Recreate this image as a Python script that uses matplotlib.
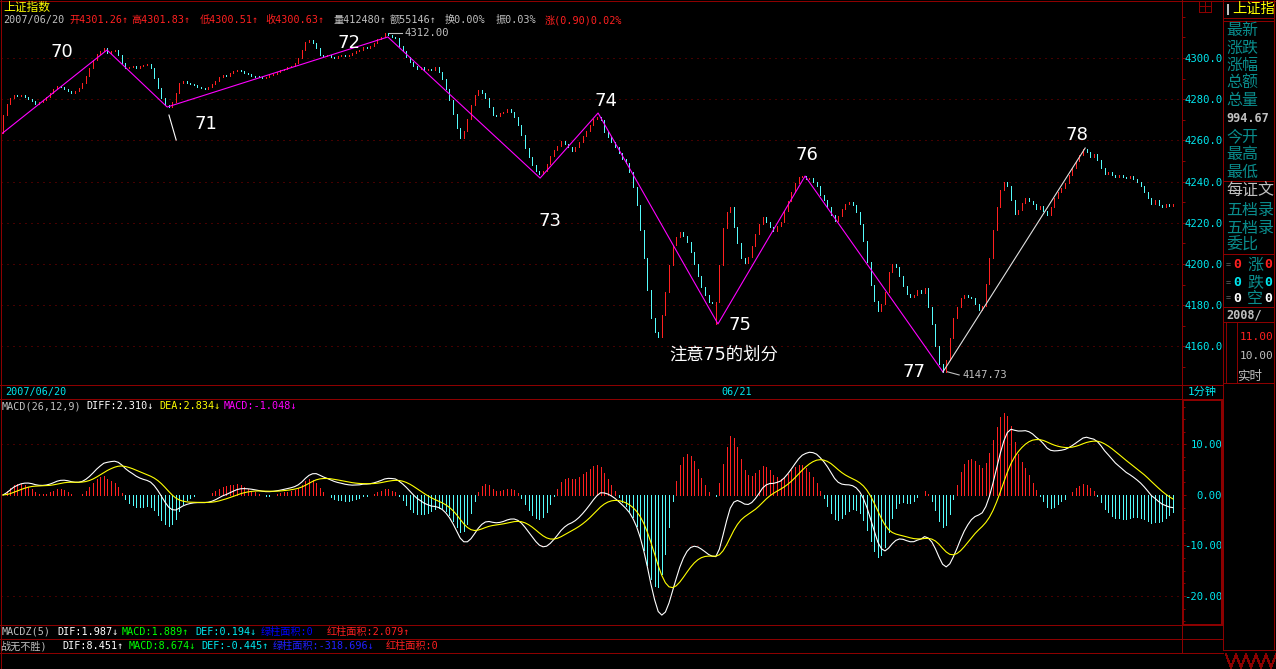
import numpy as np
import pandas as pd
import matplotlib
matplotlib.use("Agg")
import matplotlib.pyplot as plt
from matplotlib.lines import Line2D
from matplotlib.ticker import FormatStrFormatter, MultipleLocator

plt.rcParams['font.family'] = ['DejaVu Sans Mono', 'Noto Sans CJK SC']

# ---- 1 minute bars, 2007/06/20 -> 06/21 ----
first_open = 4263.5
closes = [
    4272.3, 4277.7, 4280.6, 4282.2, 4281.4, 4281.9, 4281.0, 4280.2, 4279.0, 4277.8,
    4278.6, 4279.8, 4281.2, 4283.0, 4284.9, 4286.5, 4286.0, 4285.1, 4283.9, 4283.0,
    4283.8, 4285.2, 4287.8, 4291.5, 4295.2, 4298.8, 4302.0, 4303.2, 4304.8, 4302.6,
    4303.4, 4304.0, 4301.5, 4297.8, 4295.0, 4295.8, 4296.2, 4295.0, 4295.9, 4296.6,
    4297.1, 4295.2, 4290.3, 4285.4, 4280.6, 4277.2, 4276.0, 4278.8, 4282.8, 4287.8,
    4289.0, 4288.0, 4287.4, 4286.8, 4286.0, 4285.4, 4285.0, 4285.8, 4287.2, 4289.0,
    4290.8, 4291.6, 4291.2, 4292.8, 4293.8, 4294.4, 4293.6, 4292.6, 4292.0, 4291.5,
    4291.0, 4290.6, 4290.2, 4290.8, 4291.6, 4292.4, 4293.3, 4294.0, 4294.8, 4295.6,
    4296.0, 4297.5, 4300.0, 4303.8, 4307.8, 4308.6, 4307.3, 4305.0, 4301.5, 4300.8,
    4301.3, 4300.6, 4300.2, 4300.9, 4301.4, 4301.0, 4301.6, 4302.2, 4303.4, 4304.0,
    4305.5, 4304.8, 4305.8, 4307.4, 4309.0, 4310.4, 4312.0, 4311.0, 4310.0, 4309.6,
    4305.6, 4303.2, 4300.6, 4298.0, 4296.0, 4294.8, 4295.4, 4294.0, 4294.6, 4294.0,
    4295.4, 4293.2, 4290.0, 4284.8, 4279.4, 4272.6, 4266.2, 4261.0, 4264.6, 4270.5,
    4277.0, 4282.0, 4284.4, 4283.0, 4280.4, 4276.2, 4272.5, 4272.0, 4273.2, 4274.0,
    4275.0, 4273.8, 4271.5, 4267.4, 4262.4, 4256.5, 4252.0, 4248.0, 4245.0, 4243.5,
    4245.2, 4248.4, 4252.6, 4255.5, 4257.5, 4259.5, 4258.2, 4256.8, 4255.0, 4256.6,
    4259.2, 4262.0, 4264.6, 4267.5, 4270.2, 4271.2, 4270.0, 4264.1, 4261.7, 4259.2,
    4256.8, 4253.9, 4251.0, 4249.0, 4244.7, 4237.4, 4228.6, 4216.5, 4202.9, 4187.4,
    4173.8, 4167.0, 4164.6, 4175.2, 4186.4, 4199.5, 4209.2, 4213.1, 4215.5, 4213.6,
    4210.7, 4205.8, 4200.0, 4194.2, 4188.8, 4185.0, 4181.6, 4181.1, 4181.6, 4199.5,
    4217.5, 4225.2, 4227.7, 4218.0, 4210.2, 4202.9, 4200.5, 4203.4, 4208.7, 4214.6,
    4219.4, 4222.8, 4220.4, 4218.0, 4216.0, 4218.4, 4220.4, 4225.7, 4230.6, 4234.9,
    4239.3, 4242.2, 4242.7, 4241.3, 4241.7, 4239.8, 4237.9, 4233.5, 4231.1, 4227.7,
    4223.8, 4220.9, 4223.3, 4226.7, 4229.1, 4230.1, 4228.6, 4225.2, 4219.4, 4211.2,
    4201.0, 4189.8, 4182.0, 4177.2, 4180.6, 4186.4, 4196.1, 4200.0, 4198.5, 4194.2,
    4189.3, 4185.4, 4184.0, 4185.0, 4187.4, 4185.9, 4188.3, 4179.1, 4170.9, 4160.2,
    4151.5, 4147.73, 4153.4, 4164.1, 4173.8, 4179.1, 4183.5, 4185.0, 4184.0, 4183.5,
    4180.6, 4177.7, 4179.6, 4190.3, 4202.9, 4216.5, 4227.7, 4235.9, 4239.8, 4237.9,
    4231.1, 4224.3, 4226.2, 4229.6, 4232.0, 4230.6, 4229.1, 4226.7, 4228.2, 4225.7,
    4223.8, 4227.7, 4232.0, 4234.9, 4236.9, 4239.3, 4243.2, 4246.6, 4250.0, 4252.9,
    4255.8, 4254.4, 4251.9, 4253.4, 4250.5, 4246.6, 4243.7, 4244.7, 4243.2, 4242.2,
    4243.2, 4242.2, 4241.7, 4242.7, 4241.3, 4239.8, 4237.9, 4234.9, 4232.0, 4229.1,
    4231.1, 4228.6, 4227.7, 4229.1, 4228.2, 4229.1,
]
wick_idx = [198]
wick_low = [4170.8]

# wave segmentation drawn on the chart
zz_idx = [-0.8, 28.9, 45.6, 106.9, 149.2, 165.3, 198.6, 222.8, 261.1]
zz_price = [4262.6, 4303.9, 4276.2, 4310.2, 4241.7, 4273.3, 4170.9, 4242.7, 4147.6]
up_idx = [261.1, 300.6]
up_price = [4147.6, 4256.3]
mark71_idx = [46.1, 48.1]
mark71_price = [4272.3, 4260.2]

wave_labels = ['70', '71', '72', '73', '74', '75', '76', '77', '78']
wave_idx = [16.4, 56.4, 96.1, 151.9, 167.5, 204.7, 223.3, 253.1, 298.3]
wave_price = [4302.9, 4268.0, 4307.3, 4220.9, 4279.1, 4170.4, 4252.9, 4147.6, 4262.6]
note_text = '注意75的划分'
note_idx, note_price = 200.3, 4155.8

date_idx = [0, 199]
date_txt = ['2007/06/20', '06/21']
price_ticks = [4160, 4180, 4200, 4220, 4240, 4260, 4280, 4300]
macd_ticks = [-20, -10, 0, 10]

# ---- colours / layout ----
W, H = 1276, 669
FRAME = '#8c0000'
RED = '#ff2020'
CYAN = '#54fcfc'
LCYAN = '#00e8f0'
TEAL = '#0a8c8c'
GREY = '#c0c0c0'
X0, DX = 3, 3.6          # pixel of first bar and bar spacing


def fx(x):
    return x / W


def fy(y):
    return 1 - y / H


fig = plt.figure(figsize=(W / 100, H / 100), dpi=100, facecolor='black')


def seg(x0, y0, x1, y1, color=FRAME, lw=1.0):
    fig.add_artist(Line2D([fx(x0), fx(x1)], [fy(y0), fy(y1)], color=color,
                          lw=lw * 0.72, transform=fig.transFigure, antialiased=False))


def ftext(x, y, s, color, size=7.3, ha='left', **kw):
    fig.text(fx(x), fy(y), s, color=color, fontsize=size, ha=ha, va='center', **kw)


def style_axes(ax, ticks, fmt, minor, ylim):
    ax.set_facecolor('black')
    ax.set_xlim((1 - X0) / DX, (1182 - X0) / DX)
    ax.set_ylim(*ylim)
    ax.set_xticks([])
    for s in ax.spines.values():
        s.set_visible(False)
    ax.yaxis.tick_right()
    ax.set_yticks(ticks)
    ax.yaxis.set_major_formatter(FormatStrFormatter(fmt))
    ax.yaxis.set_minor_locator(MultipleLocator(minor))
    ax.tick_params(axis='y', which='major', colors=FRAME, labelcolor=LCYAN, length=3,
                   width=0.72, pad=26, labelsize=7.6)
    ax.tick_params(axis='y', which='minor', colors=FRAME, length=2, width=0.72)
    for lab in ax.get_yticklabels():
        lab.set_ha('right')


# ---- price panel ----
c = np.array(closes)
o = np.r_[first_open, c[:-1]]
hi = np.maximum(o, c)
lo = np.minimum(o, c)
lo[wick_idx] = wick_low
hi = np.maximum(hi, lo + 0.5)
idx = np.arange(len(c))
rise = c >= o

ax = fig.add_axes([fx(1), fy(385), fx(1182) - fx(1), fy(10) - fy(385)])
style_axes(ax, price_ticks, '%.1f', 10, (4141.26, 4323.3))
for t in price_ticks:
    ax.axhline(t, color=FRAME, lw=0.72, ls=(0, (1, 5)), zorder=1)
ax.vlines(idx[rise], lo[rise], hi[rise], color=RED, lw=0.72, antialiased=False, zorder=3)
ax.vlines(idx[~rise], lo[~rise], hi[~rise], color=CYAN, lw=0.72, antialiased=False, zorder=3)

ax.plot(zz_idx, zz_price, color='#ff00ff', lw=0.8, zorder=4)
ax.plot(up_idx, up_price, color='#e0e0e0', lw=0.8, zorder=4)
ax.plot(mark71_idx, mark71_price, color='white', lw=0.8, zorder=4)

for lab, i, p in zip(wave_labels, wave_idx, wave_price):
    ax.text(i, p, lab, color='white', fontsize=13, family='DejaVu Sans',
            ha='center', va='center', zorder=5)
ax.text(note_idx, note_price, note_text, color='white', fontsize=12.5,
        family=['DejaVu Sans', 'Noto Sans CJK SC'], ha='center', va='center')

imax, imin = int(np.argmax(hi)), int(np.argmin(lo))
ax.plot([imax + 1.3, imax + 4.8], [hi[imax], hi[imax]], color=GREY, lw=0.8)
ax.text(imax + 5.6, hi[imax], f'{hi[imax]:.2f}', color=GREY, fontsize=7.6, va='center')
ax.plot([imin + 1.2, imin + 4.6], [lo[imin], lo[imin] - 1.6], color=GREY, lw=0.8)
ax.text(imin + 5.4, lo[imin] - 1.8, f'{lo[imin]:.2f}', color=GREY, fontsize=7.6, va='center')

# ---- MACD panel ----
s = pd.Series(closes)
diff = s.ewm(span=12, adjust=False).mean() - s.ewm(span=26, adjust=False).mean()
dea = diff.ewm(span=9, adjust=False).mean()
macd = (2 * (diff - dea)).to_numpy()

mx = fig.add_axes([fx(1), fy(625), fx(1182) - fx(1), fy(399) - fy(625)])
style_axes(mx, macd_ticks, '%.2f', 2.5, (-25.74, 19.0))
for t in [-20, -10, 10]:
    mx.axhline(t, color=FRAME, lw=0.72, ls=(0, (1, 5)), zorder=1)
pos = macd >= 0
mx.vlines(idx[pos], 0, macd[pos], color=RED, lw=0.72, antialiased=False, zorder=2)
mx.vlines(idx[~pos], 0, macd[~pos], color=CYAN, lw=0.72, antialiased=False, zorder=2)
mx.plot(idx, diff, color='white', lw=0.8, zorder=3)
mx.plot(idx, dea, color='#ffff00', lw=0.8, zorder=3)

# ---- frame lines ----
seg(0, 0.5, 1276, 0.5)
seg(0.5, 0, 0.5, 669)
seg(0, 385, 1223, 385)
seg(0, 399, 1182, 399)
seg(0, 625, 1223, 625)
seg(0, 639, 1223, 639)
seg(0, 653, 1223, 653)
seg(1182, 0, 1182, 653)
seg(1223, 0, 1223, 650)
seg(1274, 0, 1274, 650)
seg(1223, 650, 1275, 650)
for yy in [18, 21, 181, 254, 307, 322, 383]:
    seg(1223, yy, 1274, yy)
seg(1183, 400, 1223, 400, lw=2)
seg(1183, 625, 1223, 625, lw=2)
seg(1183, 400, 1183, 625, lw=2)
seg(1222, 400, 1222, 625, lw=2)
# small icon top right of the chart and zigzag decoration
seg(1199, 1, 1199, 12)
seg(1211, 1, 1211, 12)
seg(1199, 12, 1211, 12)
seg(1199, 6, 1211, 6)
seg(1205, 1, 1205, 12)
for k in range(5):
    xa = 1226 + k * 10
    seg(xa, 654, xa + 5, 668)
    seg(xa + 5, 668, xa + 10, 654)
seg(1226, 323, 1226, 382, color=FRAME)
seg(1237, 323, 1237, 382, color=FRAME)

# ---- header texts ----
ftext(3, 7, '上证指数', '#ffff00', size=8.5, family='Noto Sans CJK SC')
ftext(3, 20, '2007/06/20', GREY)
ftext(69, 20, '开4301.26↑', RED)
ftext(131, 20, '高4301.83↑', RED)
ftext(200, 20, '低4300.51↑', RED)
ftext(265, 20, '收4300.63↑', RED)
ftext(333, 20, '量412480↑', GREY)
ftext(390, 20, '额55146↑', GREY)
ftext(445, 20, '换0.00%', GREY)
ftext(496, 20, '振0.03%', GREY)
ftext(545, 20, '涨(0.90)0.02%', RED)

for i, t in zip(date_idx, date_txt):
    ftext(X0 + 2 + DX * i, 392, t, LCYAN)
ftext(1202, 392, '1分钟', LCYAN, size=8, ha='center')

ftext(2, 406, 'MACD(26,12,9)', GREY)
ftext(86, 406, 'DIFF:2.310↓', 'white')
ftext(159, 406, 'DEA:2.834↓', '#ffff00')
ftext(224, 406, 'MACD:-1.048↓', '#ff00ff')

ftext(2, 632, 'MACDZ(5)', GREY)
ftext(57, 632, 'DIF:1.987↓', 'white')
ftext(122, 632, 'MACD:1.889↑', '#00ff00')
ftext(195, 632, 'DEF:0.194↓', LCYAN)
ftext(261, 632, '绿柱面积:0', '#0000ff')
ftext(327, 632, '红柱面积:2.079↑', RED)

ftext(0, 646, '战无不胜)', GREY)
ftext(62, 646, 'DIF:8.451↑', 'white')
ftext(129, 646, 'MACD:8.674↓', '#00ff00')
ftext(201, 646, 'DEF:-0.445↑', LCYAN)
ftext(273, 646, '绿柱面积:-318.696↓', '#2020ff')
ftext(386, 646, '红柱面积:0', RED)

# ---- right info panel ----
seg(1228, 5, 1228, 14, color=GREY, lw=2)
ftext(1232, 9, '上证指', '#ffff00', size=10.3, family='Noto Sans CJK SC')
side_rows = [('最新', 30), ('涨跌', 48), ('涨幅', 65), ('总额', 83), ('总量', 100),
             ('今开', 137), ('最高', 155), ('最低', 172), ('五档录', 210),
             ('五档录', 228), ('委比', 245)]
for txt, yy in side_rows:
    ftext(1226, yy, txt, TEAL, size=11.5, family='Noto Sans CJK SC')
ftext(1226, 191, '每证文', GREY, size=11.5, family='Noto Sans CJK SC')
ftext(1226, 118, '994.67', GREY, size=8.6, weight='bold')
for yy, col in [(265, RED), (283, LCYAN), (298, 'white')]:
    ftext(1226, yy, '=', '#606060', size=6)
    ftext(1233, yy, '0', col, size=9.5, weight='bold')
    ftext(1264, yy, '0', col, size=9.5, weight='bold')
ftext(1247, 265, '涨', TEAL, size=11.5, family='Noto Sans CJK SC')
ftext(1247, 283, '跌', TEAL, size=11.5, family='Noto Sans CJK SC')
ftext(1247, 298, '空', TEAL, size=11.5, family='Noto Sans CJK SC')
ftext(1226, 315, '2008/', GREY, size=8.6, weight='bold')
ftext(1240, 337, '11.00', RED, size=8)
ftext(1240, 356, '10.00', GREY, size=8)
ftext(1237, 376, '实时', GREY, size=9, family='Noto Sans CJK SC')

fig.savefig('out.png', dpi=100, facecolor='black')
